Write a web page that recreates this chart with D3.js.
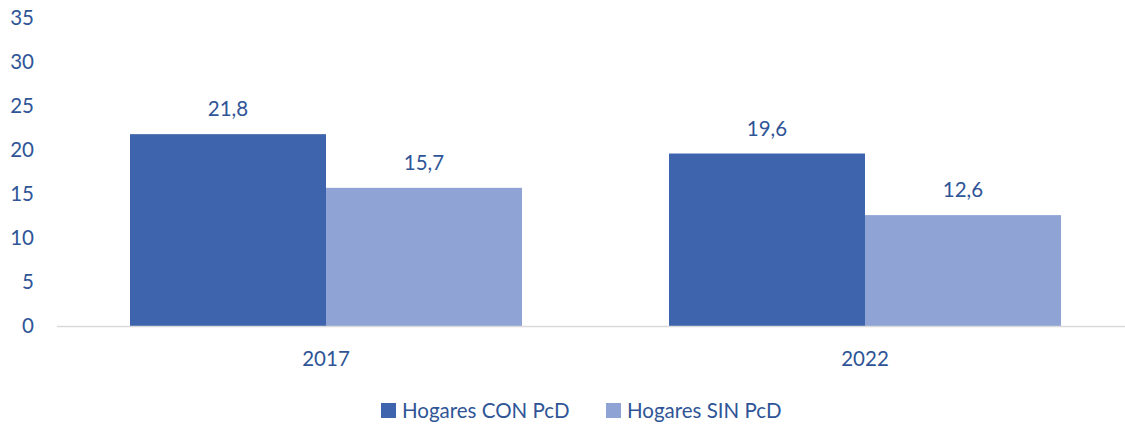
<!DOCTYPE html>
<html><head><meta charset="utf-8">
<script src="https://cdn.jsdelivr.net/npm/d3@7"></script>
<style>body{margin:0;background:#fff;}svg{display:block;font-family:Lato,'Open Sans',sans-serif;}</style>
</head><body><svg id="c" width="1125" height="425"></svg>
<script>
const categories = ["2017", "2022"];
const seriesNames = ["Hogares CON PcD", "Hogares SIN PcD"];
const conValues = [21.8, 19.6];
const sinValues = [15.7, 12.6];
const yTicks = [0, 5, 10, 15, 20, 25, 30, 35];
const colors = ["#3D64AD", "#8FA3D4"];
const textColor = "#2F5597";
const fs = 20.5;

const svg = d3.select("#c");
const mLeft = 56.5, mRight = 1134.5, mTop = 18, mBottom = 326;
const x = d3.scaleBand().domain(categories).range([mLeft, mRight]).paddingInner(0).paddingOuter(0);
const x1 = d3.scaleBand().domain(seriesNames).range([0, x.bandwidth()]).paddingInner(0).paddingOuter(0.375);
const y = d3.scaleLinear().domain([0, 35]).range([mBottom, mTop]);

const data = categories.map((c, i) => ({cat: c, vals: [conValues[i], sinValues[i]]}));

// y axis labels
const yAxis = d3.axisLeft(y).tickValues(yTicks).tickSize(0).tickPadding(0);
const gy = svg.append("g").attr("transform", "translate(34,0)").call(yAxis);
gy.select(".domain").remove();
gy.selectAll("text").attr("fill", textColor).attr("font-size", fs).attr("font-family", "Lato,'Open Sans',sans-serif");

// bars
const groups = svg.selectAll("g.grp").data(data).join("g").attr("class", "grp")
  .attr("transform", d => `translate(${x(d.cat)},0)`);
groups.selectAll("rect").data(d => d.vals.map((v, j) => ({v, j}))).join("rect")
  .attr("x", d => x1(seriesNames[d.j]))
  .attr("width", x1.bandwidth())
  .attr("y", d => y(d.v))
  .attr("height", d => y(0) - y(d.v))
  .attr("fill", d => colors[d.j]);
groups.selectAll("text.lbl").data(d => d.vals.map((v, j) => ({v, j}))).join("text").attr("class", "lbl")
  .attr("x", d => x1(seriesNames[d.j]) + x1.bandwidth() / 2)
  .attr("y", d => y(d.v) - 18)
  .attr("text-anchor", "middle")
  .attr("fill", textColor).attr("font-size", fs)
  .text(d => d3.format(".1f")(d.v).replace(".", ","));

// x axis
const xAxis = d3.axisBottom(x).tickSize(0).tickPadding(0);
const gx = svg.append("g").attr("transform", `translate(0,${mBottom})`).call(xAxis);
gx.select(".domain").attr("stroke", "#D9D9D9").attr("stroke-width", 1.5);
gx.selectAll("text").attr("fill", textColor).attr("font-size", fs).attr("dy", 0).attr("y", 40)
  .attr("font-family", "Lato,'Open Sans',sans-serif");

// legend
const legendX = [381, 606];
const lg = svg.selectAll("g.leg").data(seriesNames).join("g").attr("class", "leg")
  .attr("transform", (d, i) => `translate(${legendX[i]},403)`);
lg.append("rect").attr("width", 15).attr("height", 15).attr("fill", (d, i) => colors[i]);
lg.append("text").attr("x", 21).attr("y", 15).attr("fill", textColor).attr("font-size", fs).text(d => d);
</script></body></html>
